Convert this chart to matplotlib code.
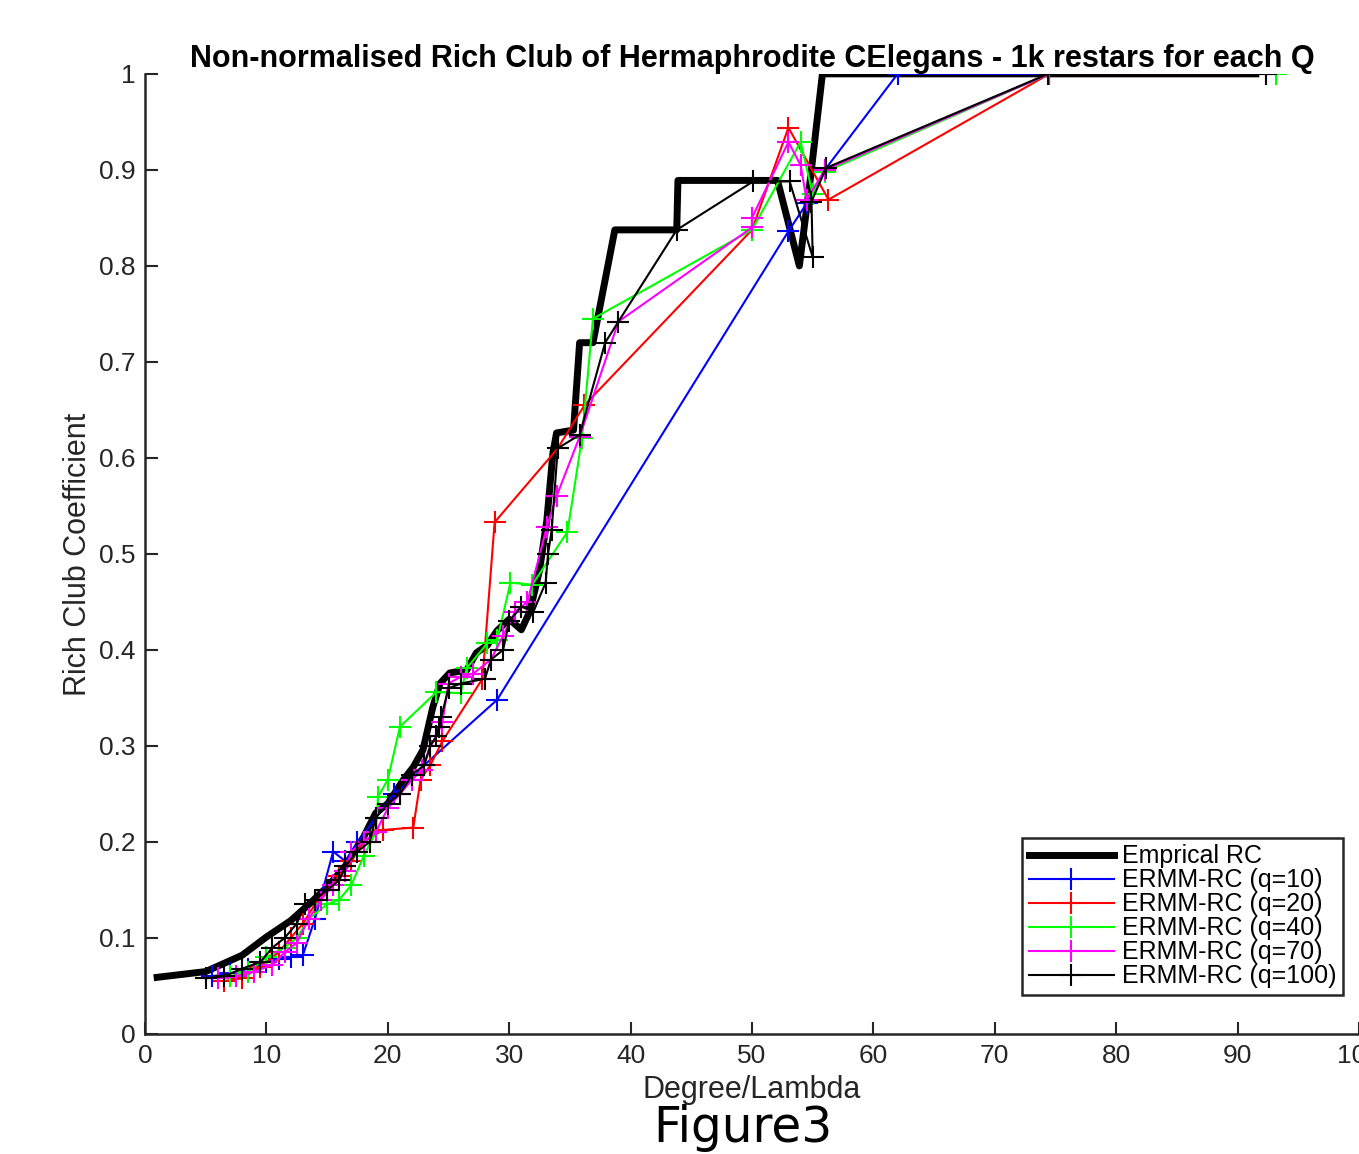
import matplotlib
matplotlib.use('Agg')
import matplotlib.pyplot as plt

plt.rcParams['font.family'] = ['Liberation Sans', 'DejaVu Sans']

# empirical rich club
emp_x = [1, 5, 8, 10, 12, 13.5, 15, 16.5, 18, 19, 20, 21.3, 22.1, 22.9, 23.7, 24.3,
         25.1, 26.5, 27.3, 28.2, 29, 30, 31, 31.7, 32.5, 33.1, 33.6, 33.9, 35.3,
         35.8, 36.9, 38.7, 43.8, 43.9, 52.1, 53.9, 54.8, 55.8, 91.5]
emp_y = [0.059, 0.065, 0.082, 0.101, 0.118, 0.135, 0.153, 0.175, 0.205, 0.23, 0.24,
         0.265, 0.278, 0.296, 0.34, 0.365, 0.376, 0.379, 0.397, 0.405, 0.42, 0.432,
         0.421, 0.44, 0.483, 0.535, 0.605, 0.626, 0.629, 0.72, 0.72, 0.8375, 0.8375,
         0.889, 0.889, 0.80, 0.89, 1.0, 1.0]

q10_x = [5.5, 7, 8.5, 10, 11, 12, 13, 14, 15.5, 16.5, 17.5, 19, 20.5, 22, 23, 29,
         53, 54.5, 56, 62, 74.5]
q10_y = [0.06, 0.063, 0.068, 0.075, 0.078, 0.08, 0.082, 0.12, 0.19, 0.18, 0.2, 0.225,
         0.25, 0.265, 0.28, 0.348, 0.836, 0.865, 0.9, 1.0, 1.0]

q20_x = [6.5, 8, 9.5, 11, 12, 13, 14, 15, 16, 17, 18, 19.6, 22.1, 22.7, 23.5, 24.5,
         27.8, 28.8, 34, 36.2, 50, 53, 56.3, 74.5]
q20_y = [0.055, 0.058, 0.07, 0.085, 0.1, 0.115, 0.135, 0.15, 0.165, 0.18, 0.2, 0.2125,
         0.215, 0.265, 0.28, 0.305, 0.37, 0.533, 0.61, 0.655, 0.8375, 0.944, 0.869, 1.0]

q40_x = [7, 8.5, 10, 11.5, 12.5, 13.5, 15, 16, 17, 18, 19, 19.2, 20, 21, 24, 26,
         26.5, 28.2, 29, 30.1, 31.9, 34.8, 36, 36.9, 50, 54, 55, 56, 74.5, 93.2]
q40_y = [0.06, 0.065, 0.08, 0.09, 0.1, 0.12, 0.135, 0.14, 0.155, 0.185, 0.21, 0.247,
         0.265, 0.32, 0.356, 0.355, 0.381, 0.407, 0.41, 0.47, 0.468, 0.523, 0.621,
         0.745, 0.8375, 0.929, 0.875, 0.898, 1.0, 1.0]

q70_x = [6, 7.5, 9, 10.5, 11.5, 12.5, 13.5, 14.5, 15.5, 16.5, 17, 18, 19, 20, 21, 22,
         22.8, 23.5, 24, 24.5, 25, 26, 27, 28.5, 29.5, 30.5, 31.5, 33.1, 33.9, 35.8,
         39, 50, 50, 53, 54, 54.5, 56, 74.5, 92.3]
q70_y = [0.058, 0.06, 0.065, 0.072, 0.085, 0.095, 0.12, 0.14, 0.155, 0.17, 0.19, 0.2,
         0.21, 0.235, 0.25, 0.265, 0.275, 0.3, 0.31, 0.325, 0.365, 0.372, 0.375, 0.39,
         0.415, 0.44, 0.45, 0.528, 0.56, 0.622, 0.742, 0.84, 0.85, 0.929, 0.905,
         0.869, 0.9, 1.0, 1.0]

q100_x = [5, 6.5, 8, 9.5, 10.5, 11.5, 12.5, 13.2, 14, 15, 16, 16.5, 17.5, 18.5, 19,
          20, 21, 22, 23, 23.5, 24, 24.2, 24.4, 25, 26, 28, 28.5, 29.5, 30, 31, 32,
          33, 33.2, 33.5, 34, 35.8, 37.9, 39, 43.8, 50.1, 53.1, 55, 54.9, 56.1,
          74.4, 92.3]
q100_y = [0.058, 0.06, 0.068, 0.075, 0.09, 0.1, 0.115, 0.135, 0.14, 0.15, 0.16, 0.175,
          0.19, 0.2, 0.225, 0.24, 0.25, 0.27, 0.28, 0.3, 0.31, 0.32, 0.33, 0.36,
          0.365, 0.37, 0.39, 0.4, 0.43, 0.445, 0.44, 0.47, 0.5, 0.525, 0.61, 0.624,
          0.72, 0.742, 0.8375, 0.888, 0.888, 0.809, 0.867, 0.902, 1.0, 1.0]

series = [
    (q10_x, q10_y, '#0000ff', 'ERMM-RC (q=10)'),
    (q20_x, q20_y, '#ff0000', 'ERMM-RC (q=20)'),
    (q40_x, q40_y, '#00ff00', 'ERMM-RC (q=40)'),
    (q70_x, q70_y, '#ff00ff', 'ERMM-RC (q=70)'),
    (q100_x, q100_y, '#000000', 'ERMM-RC (q=100)'),
]

fig = plt.figure(figsize=(13.59, 11.54), dpi=100)
ax = fig.add_axes([0.1067, 0.104, 0.8933, 0.832])

ax.plot(emp_x, emp_y, color='black', lw=5, label='Emprical RC', zorder=2)
for x, y, c, lab in series:
    ax.plot(x, y, color=c, lw=1.5, marker='+', ms=16, mew=1.5, label=lab, zorder=3)

ax.set_xlim(0, 100)
ax.set_ylim(0, 1)
ax.set_xticks(range(0, 101, 10))
ax.set_yticks([i / 10 for i in range(11)])
ax.set_yticklabels(['0'] + ['%.1f' % (i / 10) for i in range(1, 10)] + ['1'])
ax.tick_params(direction='in', length=9, width=1.5, labelsize=19,
               colors='#262626', pad=7)
for s in ['top', 'right']:
    ax.spines[s].set_visible(False)
for s in ['left', 'bottom']:
    ax.spines[s].set_linewidth(1.8)
    ax.spines[s].set_color('#262626')

ax.set_title('Non-normalised Rich Club of Hermaphrodite CElegans - 1k restars for each Q',
             fontsize=22, fontweight='bold', pad=2)
ax.set_xlabel('Degree/Lambda', fontsize=22, color='#262626', labelpad=5)
ax.set_ylabel('Rich Club Coefficient', fontsize=22, color='#262626', labelpad=4)
fig.text(0.547, 0.002, 'Figure3', fontsize=35, ha='center', va='bottom',
         family='DejaVu Sans')

leg = ax.legend(loc='lower right', bbox_to_anchor=(0.987, 0.041), fontsize=18,
                fancybox=False, framealpha=1, edgecolor='#262626',
                handlelength=3.4, handletextpad=0.35, labelspacing=0.0,
                borderpad=0.25, borderaxespad=0)
leg.get_frame().set_linewidth(1.8)

fig.savefig('out.png', dpi=100)
